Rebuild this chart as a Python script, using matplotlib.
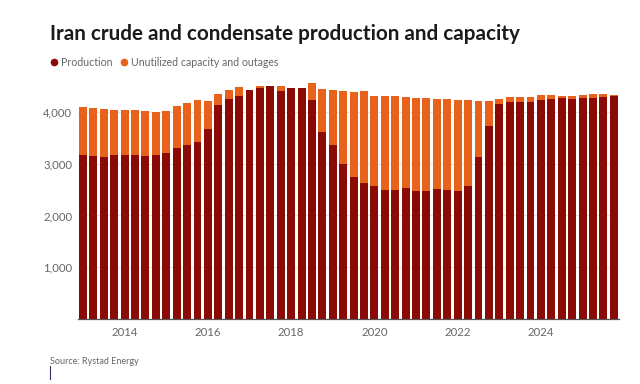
import numpy as np
import matplotlib
matplotlib.use('Agg')
import matplotlib.pyplot as plt
from matplotlib.lines import Line2D
from matplotlib.ticker import FuncFormatter

# quarterly, 2013 Q1 .. 2025 Q4 (thousand b/d)
production = [3173, 3140, 3134, 3173, 3166, 3166, 3153, 3160, 3204, 3313, 3371, 3410,
              3666, 4140, 4250, 4318, 4415, 4454, 4500, 4410, 4465, 4462, 4231, 3617,
              3358, 3000, 2743, 2627, 2569, 2492, 2490, 2530, 2473, 2480, 2505, 2500,
              2473, 2577, 3135, 3723, 4160, 4192, 4200, 4192, 4227, 4259, 4275, 4250,
              4264, 4264, 4288, 4300]
capacity = [4088, 4082, 4058, 4044, 4038, 4038, 4019, 3994, 4019, 4108, 4179, 4223,
            4204, 4355, 4415, 4475, 4420, 4506, 4506, 4500, 4470, 4467, 4550, 4448,
            4429, 4397, 4378, 4410, 4313, 4313, 4300, 4288, 4275, 4262, 4256, 4250,
            4231, 4231, 4217, 4204, 4250, 4281, 4288, 4288, 4326, 4332, 4316, 4310,
            4332, 4342, 4348, 4336]
start_year = 2013
year_ticks = [2014, 2016, 2018, 2020, 2022, 2024]
ytick_vals = [1000, 2000, 3000, 4000]

prod = np.array(production)
unused = np.array(capacity) - prod
x = start_year + np.arange(len(prod)) / 4

c_prod = '#8b0a05'
c_unused = '#e8621b'
grey = '#666666'

plt.rcParams['font.family'] = ['Lato', 'DejaVu Sans']

fig = plt.figure(figsize=(6.4, 3.84), dpi=100)
ax = fig.add_axes([0.1214, 0.1693, 0.8456, 0.62])

ax.bar(x, prod, width=0.19, color=c_prod, zorder=2)
ax.bar(x, unused, bottom=prod, width=0.19, color=c_unused, zorder=2)

ax.set_xlim(2012.873, 2025.872)
ax.set_ylim(0, 4600)
ax.set_xticks(year_ticks)
ax.set_yticks(ytick_vals)
ax.yaxis.set_major_formatter(FuncFormatter(lambda v, p: f'{int(v):,}'))
ax.tick_params(axis='both', length=0, labelsize=8.2, labelcolor=grey)
ax.tick_params(axis='x', pad=6)
ax.tick_params(axis='y', pad=4)
ax.grid(axis='y', color='#e2e2e2', linewidth=0.8, zorder=0)
for s in ['top', 'right', 'left']:
    ax.spines[s].set_visible(False)
ax.spines['bottom'].set_color('#555555')
ax.spines['bottom'].set_linewidth(0.9)

fig.text(50/640, 1-34/384, 'Iran crude and condensate production and capacity',
         fontsize=14.9, fontweight='bold', color='#1a1a1a', va='center', ha='left')

handles = [Line2D([], [], marker='o', ls='', color=c_prod, markersize=4.5),
           Line2D([], [], marker='o', ls='', color=c_unused, markersize=4.5)]
fig.legend(handles, ['Production', 'Unutilized capacity and outages'],
           loc='center left', bbox_to_anchor=(46/640, 1-62/384), ncol=2,
           frameon=False, handlelength=0.6, handletextpad=0.35,
           columnspacing=0.8, fontsize=7.6, labelcolor=grey, borderpad=0)

fig.text(50/640, 1-362/384, 'Source: Rystad Energy', fontsize=6.5, color=grey,
         va='center', ha='left')
fig.add_artist(Line2D([50/640, 50/640], [1-366/384, 1-379/384], color='#333366',
                      linewidth=0.8))

fig.savefig('out.png', dpi=100, facecolor='white')
